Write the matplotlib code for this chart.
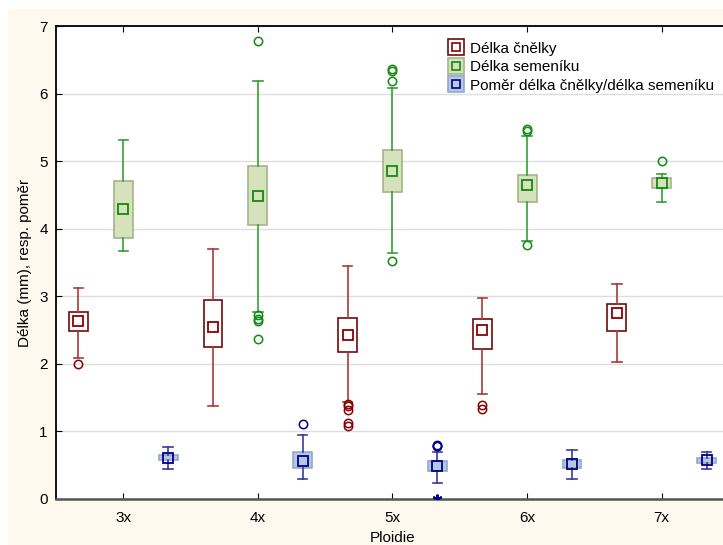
import matplotlib.pyplot as plt
import matplotlib.patches as mpatches
from matplotlib.lines import Line2D
from matplotlib.legend_handler import HandlerTuple
import numpy as np

plt.rcParams["font.family"] = ["Liberation Sans", "DejaVu Sans"]

ploidy = ["3x", "4x", "5x", "6x", "7x"]

# Délka čnělky
red_q1 = [2.48, 2.25, 2.18, 2.22, 2.48]
red_med = [2.64, 2.55, 2.42, 2.50, 2.75]
red_q3 = [2.77, 2.94, 2.68, 2.66, 2.89]
red_lo = [2.09, 1.38, 1.44, 1.55, 2.03]
red_hi = [3.13, 3.70, 3.45, 2.98, 3.18]
red_out = [[2.00], [], [1.41, 1.37, 1.31, 1.12, 1.08], [1.39, 1.33], []]
red_ext = [[], [], [], [], []]

# Délka semeníku
green_q1 = [3.86, 4.05, 4.54, 4.39, 4.60]
green_med = [4.29, 4.49, 4.86, 4.64, 4.68]
green_q3 = [4.70, 4.93, 5.17, 4.80, 4.75]
green_lo = [3.67, 2.77, 3.64, 3.82, 4.40]
green_hi = [5.32, 6.19, 6.08, 5.37, 4.81]
green_out = [[], [6.78, 2.72, 2.67, 2.63, 2.37], [6.37, 6.33, 6.18, 3.52],
             [5.48, 5.45, 3.76], [5.00]]
green_ext = [[], [], [], [], []]

# Poměr délka čnělky/délka semeníku
blue_q1 = [0.57, 0.46, 0.42, 0.46, 0.53]
blue_med = [0.61, 0.56, 0.49, 0.52, 0.57]
blue_q3 = [0.65, 0.70, 0.56, 0.57, 0.61]
blue_lo = [0.45, 0.29, 0.23, 0.30, 0.44]
blue_hi = [0.77, 0.94, 0.70, 0.72, 0.70]
blue_out = [[], [1.11], [0.80, 0.79, 0.78], [], []]
blue_ext = [[], [], [0.0], [], []]

series = [
    ("Délka čnělky", red_q1, red_med, red_q3, red_lo, red_hi, red_out, red_ext,
     "#ffffff", "#6e0a0a", "#a83a3a", "#8b0000"),
    ("Délka semeníku", green_q1, green_med, green_q3, green_lo, green_hi, green_out, green_ext,
     "#d6e2bb", "#a4b488", "#35a035", "#108a10"),
    ("Poměr délka čnělky/délka semeníku", blue_q1, blue_med, blue_q3, blue_lo, blue_hi, blue_out, blue_ext,
     "#b6c8df", "#93a9c9", "#3a3aa0", "#00008b"),
]
offsets = [-1 / 3, 0.0, 1 / 3]

fig = plt.figure(figsize=(7.23, 5.45), dpi=100, facecolor="white")
# cream panel behind the plot
fig.patches.append(mpatches.Rectangle((8 / 723, 0), 1, 1 - 9 / 545, transform=fig.transFigure,
                                      facecolor="#fdf9ee", edgecolor="none", zorder=-10))
ax = fig.add_axes([56 / 723, 46 / 545, 673 / 723, 473 / 545])
ax.set_facecolor("white")

x = np.arange(1, len(ploidy) + 1)
handles = []
for (name, q1, med, q3, lo, hi, out, ext, fill, edge, wcol, mcol), off in zip(series, offsets):
    stats = []
    for i in range(len(ploidy)):
        stats.append({"q1": q1[i], "med": med[i], "q3": q3[i],
                      "whislo": lo[i], "whishi": hi[i], "fliers": out[i]})
    ax.bxp(stats, positions=x + off, widths=0.14, capwidths=0.07, patch_artist=True,
           showfliers=True, manage_ticks=False,
           boxprops=dict(facecolor=fill, edgecolor=edge, linewidth=1.2),
           whiskerprops=dict(color=wcol, linewidth=1.2),
           capprops=dict(color=wcol, linewidth=1.2),
           medianprops=dict(linewidth=0),
           flierprops=dict(marker="o", markersize=6, markerfacecolor="none",
                           markeredgecolor=mcol, markeredgewidth=1.1, linestyle="none"),
           zorder=3)
    ax.plot(x + off, med, linestyle="none", marker="s", markersize=7,
            markerfacecolor="none", markeredgecolor=mcol, markeredgewidth=1.3, zorder=5)
    for i, vals in enumerate(ext):
        if vals:
            ax.plot([x[i] + off] * len(vals), vals, linestyle="none", marker=(6, 2, 0),
                    markersize=7, color=mcol, markeredgewidth=1.5, zorder=5)
    handles.append((Line2D([], [], linestyle="none", marker="s", markersize=11,
                           markerfacecolor=fill, markeredgecolor=edge, markeredgewidth=1.2),
                    Line2D([], [], linestyle="none", marker="s", markersize=6,
                           markerfacecolor="none", markeredgecolor=mcol, markeredgewidth=1.2)))

ax.set_xlim(0.5, 5.5)
ax.set_ylim(0, 7)
ax.set_xticks(x)
ax.set_xticklabels(ploidy)
ax.set_yticks(range(0, 8))
ax.yaxis.grid(True, color="#dddddd", linewidth=1)
ax.set_axisbelow(True)
ax.tick_params(axis="both", direction="in", length=4, labelsize=11, top=True, right=True, pad=6)
ax.tick_params(axis="x", pad=9)
ax.spines["bottom"].set_color("#555555")
ax.spines["bottom"].set_linewidth(1.8)
ax.spines["left"].set_linewidth(1.3)
ax.spines["top"].set_linewidth(1.3)

ax.set_xlabel("Ploidie", fontsize=11, labelpad=4)
ax.set_ylabel("Délka (mm), resp. poměr", fontsize=11, labelpad=5)

ax.legend(handles, [s[0] for s in series], handler_map={tuple: HandlerTuple(ndivide=None, pad=-1.0)},
          loc="upper left", bbox_to_anchor=(0.575, 0.98), frameon=False, fontsize=11,
          handlelength=0.9, handletextpad=0.5, labelspacing=0.3, borderaxespad=0)

fig.savefig("out.png", dpi=100, facecolor=fig.get_facecolor())
